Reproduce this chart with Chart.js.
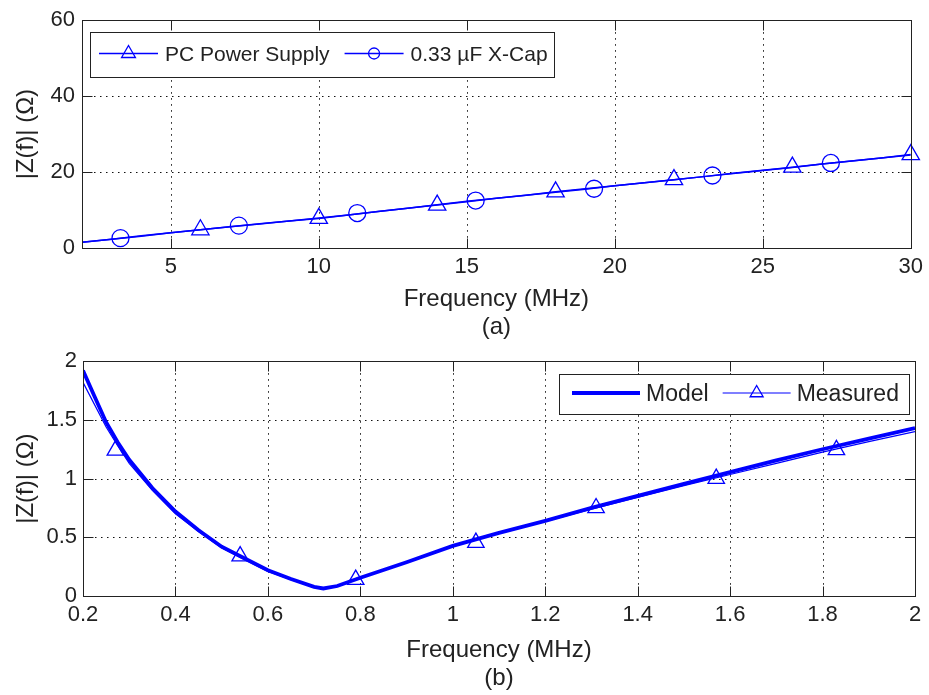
<!DOCTYPE html>
<html>
<head>
<meta charset="utf-8">
<script src="https://cdn.jsdelivr.net/npm/chart.js@4.4.1/dist/chart.umd.min.js"></script>
<style>
  html, body { margin: 0; padding: 0; background: #fff; }
  #wrap { position: relative; width: 929px; height: 695px; }
  canvas { position: absolute; left: 0; }
</style>
</head>
<body>
<div id="wrap">
  <canvas id="topChart" width="929" height="342" style="top:0"></canvas>
  <canvas id="botChart" width="929" height="353" style="top:342px"></canvas>
</div>
<script>
// (a) impedance 2–30 MHz
const A_F  = [2,3,4,5,6,7,8,9,10,11,12,13,14,15,16,17,18,19,20,21,22,23,24,25,26,27,28,29,30];
const A_PS = [1.5,2.3,3.1,4.0,4.8,5.6,6.3,7.1,7.8,8.7,9.6,10.5,11.4,12.3,13.1,13.9,14.8,15.6,16.4,17.2,18.0,18.8,19.7,20.5,21.3,22.1,22.9,23.7,24.5];
const A_XC = [1.5,2.3,3.2,4.0,4.8,5.6,6.4,7.1,7.9,8.7,9.6,10.5,11.3,12.2,13.1,13.9,14.7,15.5,16.4,17.2,18.0,18.8,19.6,20.4,21.2,22.1,22.9,23.7,24.6];
const A_PS_MF = [6,10,14,18,22,26,30];
const A_PS_MZ = [4.8,7.8,11.3,14.8,18.0,21.3,24.6];
const A_XC_MF = [3.3,7.3,11.3,15.3,19.3,23.3,27.3];
const A_XC_MZ = [2.6,5.9,9.2,12.5,15.6,19.1,22.4];
const A_XTICKS = [5,10,15,20,25,30];
const A_YTICKS = [0,20,40,60];

// (b) model vs measured 0.2–2 MHz
const B_F     = [0.2,0.225,0.25,0.275,0.3,0.35,0.4,0.45,0.5,0.55,0.6,0.65,0.7,0.72,0.75,0.8,0.9,1.0,1.1,1.2,1.3,1.4,1.5,1.6,1.7,1.8,1.9,2.0];
const B_MODEL = [1.92,1.70,1.48,1.31,1.16,0.92,0.72,0.56,0.42,0.32,0.22,0.145,0.078,0.064,0.085,0.156,0.287,0.427,0.538,0.64,0.75,0.853,0.955,1.055,1.155,1.25,1.34,1.43];
const B_MEAS  = [1.82,1.63,1.44,1.28,1.13,0.90,0.70,0.55,0.41,0.31,0.21,0.14,0.075,0.062,0.085,0.16,0.29,0.43,0.535,0.635,0.74,0.84,0.94,1.035,1.13,1.225,1.315,1.40];
const B_MK_F  = [0.27,0.54,0.79,1.05,1.31,1.57,1.83];
const B_MK_Z  = [1.24,0.34,0.14,0.455,0.75,1.0,1.245];
const B_XTICKS = [0.2,0.4,0.6,0.8,1,1.2,1.4,1.6,1.8,2];
const B_YTICKS = [0,0.5,1,1.5,2];

const BLUE = '#0000ff', INK = '#222';
const FONT = '"Liberation Sans", Arial, sans-serif';
Chart.defaults.font.family = FONT;

const xy = (f, z) => f.map((v, i) => ({ x: v, y: z[i] }));

function marker(ctx, style, x, y, r) {
  ctx.beginPath();
  if (style === 'circle') {
    ctx.arc(x, y, r, 0, Math.PI * 2);
  } else {
    ctx.moveTo(x, y - r);
    ctx.lineTo(x + r * 0.866, y + r / 2);
    ctx.lineTo(x - r * 0.866, y + r / 2);
    ctx.closePath();
  }
  ctx.stroke();
}

// dotted grid, box and inward ticks like MATLAB
const matlabAxes = {
  id: 'matlabAxes',
  beforeDatasetsDraw(chart) {
    const { ctx, chartArea: a, scales: { x, y } } = chart;
    ctx.save();
    ctx.strokeStyle = '#111'; ctx.lineWidth = 1; ctx.setLineDash([1.5, 4.5]);
    ctx.beginPath();
    x.ticks.forEach(t => {
      const p = Math.round(x.getPixelForValue(t.value)) + 0.5;
      if (p > a.left + 2 && p < a.right - 2) { ctx.moveTo(p, a.top); ctx.lineTo(p, a.bottom); }
    });
    y.ticks.forEach(t => {
      const p = Math.round(y.getPixelForValue(t.value)) + 0.5;
      if (p > a.top + 2 && p < a.bottom - 2) { ctx.moveTo(a.left, p); ctx.lineTo(a.right, p); }
    });
    ctx.stroke();
    ctx.restore();
  },
  afterDatasetsDraw(chart) {
    const { ctx, chartArea: a, scales: { x, y } } = chart;
    const L = Math.round(a.left) + 0.5, R = Math.round(a.right) + 0.5;
    const T = Math.round(a.top) + 0.5, B = Math.round(a.bottom) + 0.5, TL = 10;
    ctx.save();
    ctx.strokeStyle = INK; ctx.lineWidth = 1;
    ctx.strokeRect(L, T, R - L, B - T);
    ctx.beginPath();
    x.ticks.forEach(t => {
      const p = Math.round(x.getPixelForValue(t.value)) + 0.5;
      ctx.moveTo(p, B); ctx.lineTo(p, B - TL);
      ctx.moveTo(p, T); ctx.lineTo(p, T + TL);
    });
    y.ticks.forEach(t => {
      const p = Math.round(y.getPixelForValue(t.value)) + 0.5;
      ctx.moveTo(L, p); ctx.lineTo(L + TL, p);
      ctx.moveTo(R, p); ctx.lineTo(R - TL, p);
    });
    ctx.stroke();
    ctx.restore();
  }
};

// boxed legend with line sample and marker
const boxLegend = {
  id: 'boxLegend',
  afterDraw(chart, args, o) {
    const { ctx, chartArea: ca } = chart;
    const items = chart.data.datasets.filter(d => d.label);
    ctx.save();
    ctx.font = o.size + 'px ' + FONT;
    const widths = items.map(d => ctx.measureText(d.label).width);
    const w = o.padL + o.padR + o.itemGap * (items.length - 1) +
      widths.reduce((s, tw) => s + o.sample + o.gap + tw, 0);
    const x0 = Math.round(o.align === 'right' ? ca.right - o.dx - w : ca.left + o.dx);
    const y0 = Math.round(ca.top + o.dy), cy = y0 + o.h / 2 - 1;
    ctx.fillStyle = '#fff'; ctx.fillRect(x0, y0, w, o.h);
    ctx.strokeStyle = INK; ctx.lineWidth = 1;
    ctx.strokeRect(x0 + 0.5, y0 + 0.5, Math.round(w), o.h);
    let x = x0 + o.padL;
    items.forEach((d, i) => {
      ctx.strokeStyle = d.borderColor; ctx.lineWidth = d.borderWidth;
      ctx.beginPath(); ctx.moveTo(x, cy); ctx.lineTo(x + o.sample, cy); ctx.stroke();
      if (d.legendMarker) {
        ctx.lineWidth = 1.3;
        marker(ctx, d.legendMarker.style, x + o.sample / 2, cy, d.legendMarker.r);
      }
      x += o.sample + o.gap;
      ctx.fillStyle = INK; ctx.textBaseline = 'middle'; ctx.textAlign = 'left';
      ctx.fillText(d.label, x, cy + 2);
      x += widths[i] + o.itemGap;
    });
    ctx.restore();
  }
};

const axis = (min, max, ticks, title, o) => ({
  type: 'linear', min, max,
  afterBuildTicks: s => { s.ticks = ticks.map(v => ({ value: v })); },
  afterFit: s => { if (s.isHorizontal()) s.height = o.h; else s.width = o.w; },
  grid: { display: false, drawTicks: false },
  border: { display: false },
  ticks: { color: INK, font: { size: 22 }, padding: o.pad, autoSkip: false, maxRotation: 0, callback: v => String(v) },
  title: { display: true, text: title, color: INK, font: { size: 24, lineHeight: 1.19 }, padding: o.tpad }
});

const lineDs = (label, data, width, legendMarker) => ({
  label, data, borderColor: BLUE, borderWidth: width, pointRadius: 0, tension: 0, legendMarker
});
const markDs = (data, style, r) => ({
  data, showLine: false, pointStyle: style, pointRadius: r, pointBorderColor: BLUE,
  pointBackgroundColor: 'rgba(0,0,0,0)', pointBorderWidth: 1.3, clip: false
});

const common = {
  responsive: false, animation: false, events: [],
  plugins: { legend: { display: false }, tooltip: { enabled: false } }
};

new Chart(document.getElementById('topChart'), {
  type: 'line',
  data: {
    datasets: [
      lineDs('PC Power Supply', xy(A_F, A_PS), 1.5, { style: 'triangle', r: 8 }),
      lineDs('0.33 µF X-Cap', xy(A_F, A_XC), 1.5, { style: 'circle', r: 5.5 }),
      markDs(xy(A_PS_MF, A_PS_MZ), 'triangle', 10),
      markDs(xy(A_XC_MF, A_XC_MZ), 'circle', 8.5)
    ]
  },
  options: {
    ...common,
    layout: { padding: { top: 20, right: 15, left: 0, bottom: 0 } },
    plugins: { ...common.plugins,
      boxLegend: { align: 'left', dx: 8, dy: 12, h: 45, size: 21, padL: 9, padR: 6, sample: 59, gap: 7, itemGap: 15 } },
    scales: {
      x: axis(2, 30, A_XTICKS, ['Frequency (MHz)', '(a)'], { h: 94, pad: 6, tpad: { top: 0, bottom: 0 } }),
      y: axis(0, 60, A_YTICKS, '|Z(f)| (Ω)', { w: 82, pad: 7, tpad: { top: 12, bottom: 0 } })
    }
  },
  plugins: [matlabAxes, boxLegend]
});

new Chart(document.getElementById('botChart'), {
  type: 'line',
  data: {
    datasets: [
      lineDs('Model', xy(B_F, B_MODEL), 3.8, null),
      lineDs('Measured', xy(B_F, B_MEAS), 1.2, { style: 'triangle', r: 7.5 }),
      markDs(xy(B_MK_F, B_MK_Z), 'triangle', 9.5)
    ]
  },
  options: {
    ...common,
    layout: { padding: { top: 15, right: 14, left: 0, bottom: 0 } },
    plugins: { ...common.plugins,
      boxLegend: { align: 'right', dx: 6, dy: 13, h: 40, size: 23, padL: 13, padR: 10, sample: 68, gap: 6, itemGap: 14 } },
    scales: {
      x: axis(0.2, 2, B_XTICKS, ['Frequency (MHz)', '(b)'], { h: 99, pad: 6, tpad: { top: 0, bottom: 2 } }),
      y: axis(0, 2, B_YTICKS, '|Z(f)| (Ω)', { w: 83, pad: 6, tpad: { top: 12, bottom: 0 } })
    }
  },
  plugins: [matlabAxes, boxLegend]
});
</script>
</body>
</html>
